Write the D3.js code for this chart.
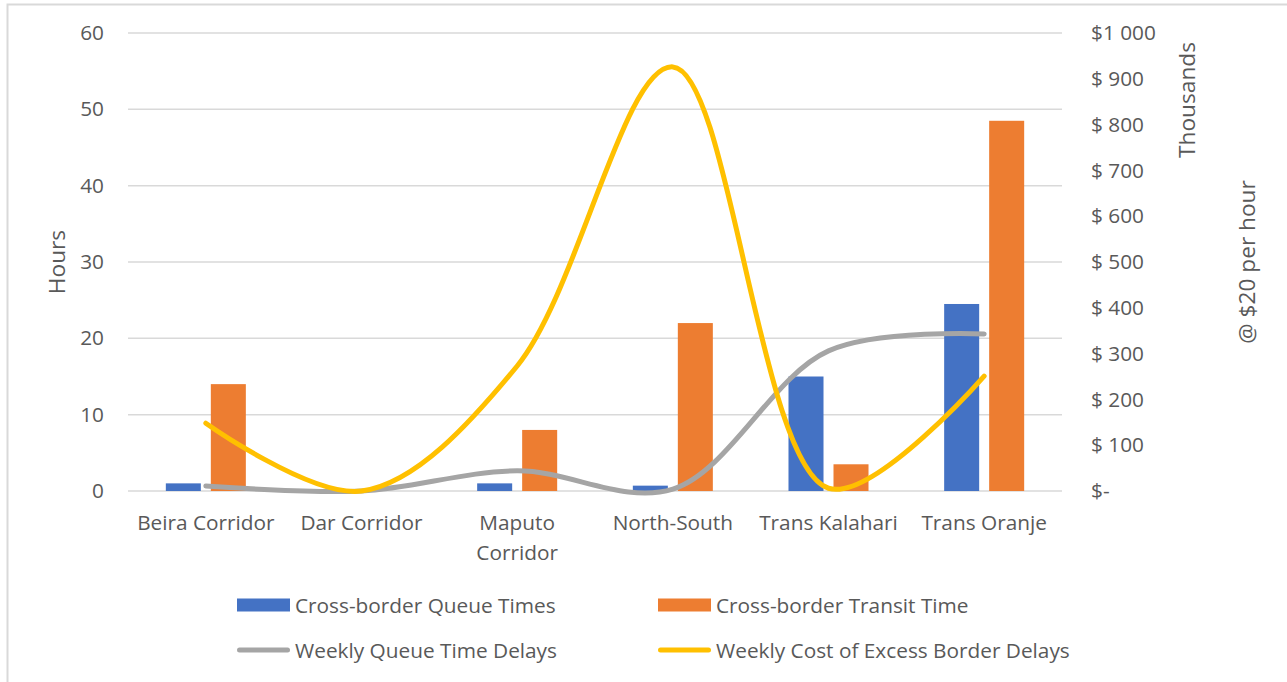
<!DOCTYPE html>
<html>
<head>
<meta charset="utf-8">
<script src="https://cdn.jsdelivr.net/npm/d3@7"></script>
<style>
  html, body { margin: 0; padding: 0; background: #fff; }
  svg { display: block; font-family: "Open Sans", Lato, sans-serif; }
</style>
</head>
<body>
<svg id="chart" width="1287" height="682"></svg>
<script>
// Corridors along the x axis
const categories = ["Beira Corridor", "Dar Corridor", "Maputo Corridor", "North-South", "Trans Kalahari", "Trans Oranje"];
const categoryLabelLines = [["Beira Corridor"], ["Dar Corridor"], ["Maputo", "Corridor"], ["North-South"], ["Trans Kalahari"], ["Trans Oranje"]];

// Bars, left axis (hours)
const queueTimes = [1, 0, 1, 0.7, 15, 24.5];
const transitTimes = [14, 0, 8, 22, 3.5, 48.5];

// Smoothed lines, right axis (thousands of dollars)
const weeklyQueueDelays = [11, 0, 44, 4, 306, 343];
const weeklyCost = [148, 0, 273, 926, 6, 251];

const leftTicks = [0, 10, 20, 30, 40, 50, 60];
const rightTicks = [0, 100, 200, 300, 400, 500, 600, 700, 800, 900, 1000];
const rightTickLabels = ["$-", "$ 100", "$ 200", "$ 300", "$ 400", "$ 500", "$ 600", "$ 700", "$ 800", "$ 900", "$1 000"];

const seriesNames = ["Cross-border Queue Times", "Cross-border Transit Time", "Weekly Queue Time Delays", "Weekly Cost of Excess Border Delays"];
const colors = { queue: "#4472C4", transit: "#ED7D31", delays: "#A5A5A5", cost: "#FFC000" };
const textColor = "#595959";
const gridColor = "#d9d9d9";
const labelSize = "20.8px";
const titleSize = "22.7px";

const svg = d3.select("#chart");

// outer chart frame
svg.append("rect")
  .attr("x", 7.5).attr("y", 4.5)
  .attr("width", 1300).attr("height", 700)
  .attr("fill", "none").attr("stroke", gridColor).attr("stroke-width", 2);

const plot = { left: 128, right: 1062, top: 33, bottom: 491 };

const x = d3.scaleBand().domain(categories).range([plot.left, plot.right]).padding(0);
const bw = x.bandwidth();
const xSeries = d3.scaleBand().domain(["queue", "transit"])
  .range([bw * 0.243, bw * 0.757]).paddingInner(0.222);

const yL = d3.scaleLinear().domain([0, 60]).range([plot.bottom, plot.top]);
const yR = d3.scaleLinear().domain([0, 1000]).range([plot.bottom, plot.top]);

// gridlines
svg.append("g")
  .selectAll("line").data(leftTicks).join("line")
  .attr("x1", plot.left).attr("x2", plot.right)
  .attr("y1", d => yL(d)).attr("y2", d => yL(d))
  .attr("stroke", gridColor).attr("stroke-width", 1.5);

// left axis
const leftAxis = svg.append("g")
  .attr("transform", `translate(${plot.left},0)`)
  .call(d3.axisLeft(yL).tickValues(leftTicks).tickSize(0).tickPadding(24));
leftAxis.select(".domain").remove();
leftAxis.selectAll("text").attr("fill", textColor).style("font-size", labelSize)
  .style("font-family", "'Open Sans', sans-serif");

// right axis: accounting-style labels, left aligned
const rightAxis = svg.append("g")
  .attr("transform", `translate(${plot.right},0)`)
  .call(d3.axisRight(yR).tickValues(rightTicks).tickSize(0).tickPadding(29)
    .tickFormat((d, i) => rightTickLabels[i]));
rightAxis.select(".domain").remove();
rightAxis.selectAll("text").attr("fill", textColor).style("font-size", labelSize)
  .style("font-family", "'Open Sans', sans-serif");

// category labels
const xLabels = svg.append("g").selectAll("text").data(categories).join("text")
  .attr("text-anchor", "middle")
  .attr("fill", textColor)
  .style("font-size", labelSize)
  .attr("transform", d => `translate(${x(d) + bw / 2},530)`);
xLabels.each(function (d, i) {
  d3.select(this).selectAll("tspan").data(categoryLabelLines[i]).join("tspan")
    .attr("x", 0).attr("y", (t, j) => j * 30).text(t => t);
});

// axis titles
svg.append("text")
  .attr("transform", `translate(65,${(plot.top + plot.bottom) / 2}) rotate(-90)`)
  .attr("text-anchor", "middle").attr("fill", textColor).style("font-size", titleSize)
  .text("Hours");
svg.append("text")
  .attr("transform", `translate(1195,100) rotate(-90)`)
  .attr("text-anchor", "middle").attr("fill", textColor).style("font-size", titleSize)
  .text("Thousands");
svg.append("text")
  .attr("transform", `translate(1255,${(plot.top + plot.bottom) / 2}) rotate(-90)`)
  .attr("text-anchor", "middle").attr("fill", textColor).style("font-size", titleSize)
  .text("@ $20 per hour");

// clustered bars
const barData = categories.map((c, i) => ({ c, queue: queueTimes[i], transit: transitTimes[i] }));
const groups = svg.append("g").selectAll("g").data(barData).join("g")
  .attr("transform", d => `translate(${x(d.c)},0)`);
groups.selectAll("rect")
  .data(d => ["queue", "transit"].map(k => ({ k, v: d[k] })).filter(e => e.v > 0))
  .join("rect")
  .attr("x", e => xSeries(e.k))
  .attr("width", xSeries.bandwidth())
  .attr("y", e => yL(e.v))
  .attr("height", e => yL(0) - yL(e.v))
  .attr("fill", e => colors[e.k]);

// smoothed lines on the secondary axis
const line = d3.line()
  .x((d, i) => x(categories[i]) + bw / 2)
  .y(d => yR(d))
  .curve(d3.curveCatmullRom.alpha(0.5));

svg.append("path").datum(weeklyQueueDelays)
  .attr("d", line).attr("fill", "none")
  .attr("stroke", colors.delays).attr("stroke-width", 5).attr("stroke-linecap", "round");
svg.append("path").datum(weeklyCost)
  .attr("d", line).attr("fill", "none")
  .attr("stroke", colors.cost).attr("stroke-width", 5).attr("stroke-linecap", "round");

// legend
const legendItems = [
  { name: seriesNames[0], key: "queue", type: "rect", x: 237, y: 605 },
  { name: seriesNames[1], key: "transit", type: "rect", x: 658, y: 605 },
  { name: seriesNames[2], key: "delays", type: "line", x: 237, y: 650 },
  { name: seriesNames[3], key: "cost", type: "line", x: 658, y: 650 }
];
const legend = svg.append("g").selectAll("g").data(legendItems).join("g")
  .attr("transform", d => `translate(${d.x},${d.y})`);
legend.filter(d => d.type === "rect").append("rect")
  .attr("x", 0).attr("y", -6.5).attr("width", 53).attr("height", 13)
  .attr("fill", d => colors[d.key]);
legend.filter(d => d.type === "line").append("line")
  .attr("x1", 2.5).attr("x2", 50.5).attr("y1", 0).attr("y2", 0)
  .attr("stroke", d => colors[d.key]).attr("stroke-width", 5).attr("stroke-linecap", "round");
legend.append("text")
  .attr("x", 58).attr("y", 7.5)
  .attr("fill", textColor).style("font-size", labelSize)
  .text(d => d.name);
</script>
</body>
</html>
